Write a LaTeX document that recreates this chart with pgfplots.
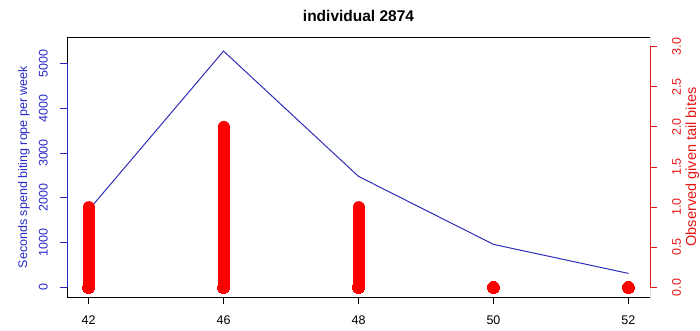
\documentclass[border=0pt]{standalone}
\usepackage{pgfplots}
\pgfplotsset{compat=1.18}
\usepackage{fontspec}
\setmainfont{Liberation Sans}
\definecolor{myblue}{RGB}{40,40,200}
\definecolor{lineblue}{RGB}{45,45,185}
\definecolor{myred}{RGB}{230,20,20}
\begin{document}
\fontsize{12.5bp}{15bp}\selectfont
\begin{tikzpicture}[x=1bp,y=1bp]
\useasboundingbox (0,0) rectangle (700,330);
\begin{axis}[
  at={(67bp,33bp)}, anchor=south west,
  width=583bp, height=260bp, scale only axis,
  xmin=0.84, xmax=5.16, ymin=-215, ymax=5590,
  axis line style={draw=none},
  xtick={1,2,3,4,5}, xticklabels={42,46,48,50,52},
  xtick pos=bottom, ytick pos=left,
  ytick={0,1000,2000,3000,4000,5000},
  scaled y ticks=false,
  /pgf/number format/1000 sep={},
  /pgf/number format/assume math mode=true,
  tick align=outside, major tick length=7bp,
  x tick style={black, line width=0.8bp},
  y tick style={myblue, line width=0.8bp},
  yticklabel style={myblue, inner sep=0pt, xshift=-12bp, rotate=90, anchor=south},
  xticklabel style={black, inner sep=0pt, anchor=north, yshift=-12bp},
  every axis y label/.style={at={(rel axis cs:-0.074,0.5)}, rotate=90, anchor=center},
  ylabel={\textcolor{myblue}{Seconds spend biting rope per week}},
  every axis title/.style={at={(rel axis cs:0.5,1.0615)}, anchor=base},
  title={\bfseries\fontsize{15.5bp}{18bp}\selectfont individual 2874},
]
\addplot[lineblue, line width=1bp] coordinates {(1,1725) (2,5275) (3,2478) (4,960) (5,312)};
\draw[black, line width=0.8bp] (rel axis cs:0,0) rectangle (rel axis cs:1,1);
\draw[myblue, line width=0.8bp] (axis cs:0.84,0) -- (axis cs:0.84,5000);
\end{axis}
\begin{axis}[
  at={(67bp,33bp)}, anchor=south west,
  width=583bp, height=260bp, scale only axis,
  xmin=0.84, xmax=5.16, ymin=-0.12, ymax=3.12,
  axis line style={draw=none},
  xtick=\empty, ytick pos=right,
  ytick={0,0.5,1,1.5,2,2.5,3},
  /pgf/number format/.cd, fixed, fixed zerofill, precision=1, assume math mode=true,
  /pgfplots/.cd,
  tick align=outside, major tick length=7bp,
  y tick style={myred, line width=0.8bp},
  yticklabel style={myred, inner sep=0pt, xshift=15bp, rotate=90, anchor=north},
  every axis y label/.style={at={(rel axis cs:1.0789,0.5)}, rotate=90, anchor=base},
  ylabel={\fontsize{14.5bp}{17bp}\selectfont\textcolor{myred}{Observed given tail bites}},
  clip=false,
]
\addplot[ycomb, red, line width=12bp, line cap=round] coordinates {(1,1) (2,2) (3,1) (4,0) (5,0)};
\addplot[only marks, mark=*, mark size=6bp, mark options={fill=red, draw=red, line width=0pt}] coordinates {(1,0) (2,0) (3,0) (4,0) (5,0)};
\draw[myred, line width=0.8bp] (axis cs:5.16,0) -- (axis cs:5.16,3);
\end{axis}
\end{tikzpicture}
\end{document}
